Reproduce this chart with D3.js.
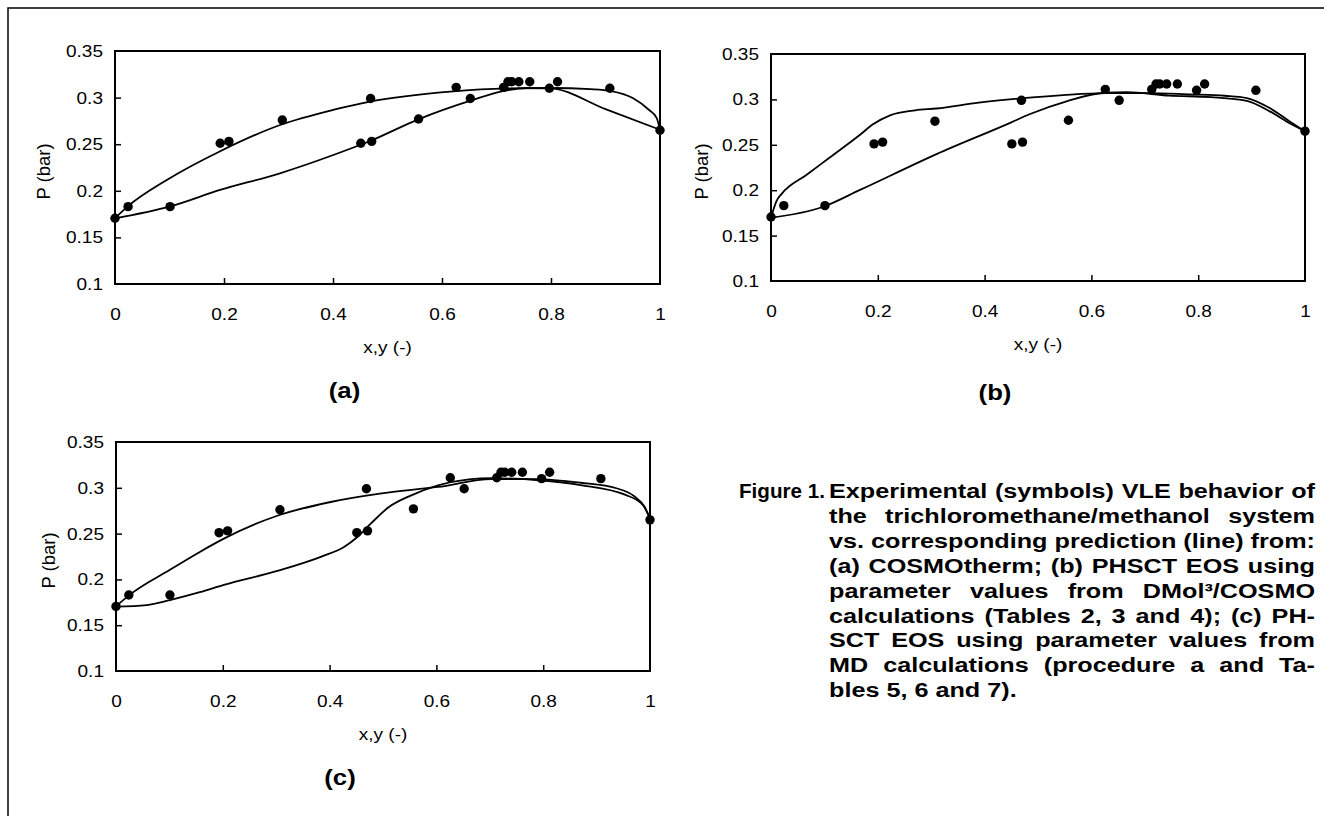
<!DOCTYPE html>
<html>
<head>
<meta charset="utf-8">
<script src="https://cdn.jsdelivr.net/npm/d3@7"></script>
<style>
  body { margin: 0; background: #fff; }
  svg { display: block; font-family: "Liberation Sans", Arial, Helvetica, sans-serif; }
</style>
</head>
<body>
<div id="wrapper"></div>
<script>
// experimental VLE points (same in every panel)
const expX = [0, 0.024, 0.101, 0.193, 0.209, 0.307, 0.451, 0.469, 0.471, 0.557, 0.626, 0.652, 0.713, 0.721, 0.728, 0.741, 0.761, 0.797, 0.812, 0.908, 1] ;
const expP = [0.1705, 0.183, 0.183, 0.251, 0.253, 0.276, 0.251, 0.299, 0.253, 0.277, 0.311, 0.299, 0.311, 0.317, 0.317, 0.317, 0.317, 0.310, 0.317, 0.310, 0.265] ;

// (a) COSMOtherm
const aUpX = [0, 0.024, 0.095, 0.193, 0.303, 0.4, 0.468, 0.615, 0.72, 0.8, 0.872, 0.91, 0.95, 0.98, 0.994, 1] ;
const aUpP = [0.1705, 0.1835, 0.2116, 0.2425, 0.2706, 0.2867, 0.2956, 0.3063, 0.3098, 0.3103, 0.309, 0.307, 0.2996, 0.2867, 0.278, 0.2655] ;
const aLoX = [0, 0.0997, 0.1927, 0.3027, 0.4006, 0.468, 0.5566, 0.654, 0.714, 0.756, 0.798, 0.9, 1] ;
const aLoP = [0.1705, 0.183, 0.2009, 0.2188, 0.2384, 0.2534, 0.2767, 0.297, 0.3073, 0.3103, 0.310, 0.2876, 0.2655] ;

// (b) PHSCT EOS, DMol3/COSMO parameters
const bUpX = [0, 0.0107, 0.02, 0.0668, 0.11, 0.1667, 0.191, 0.223, 0.27, 0.31, 0.389, 0.468, 0.547, 0.626, 0.705, 0.784, 0.85, 0.891, 0.934, 0.972, 1] ;
const bUpP = [0.1697, 0.1885, 0.196, 0.217, 0.236, 0.261, 0.2726, 0.2825, 0.288, 0.290, 0.2964, 0.3011, 0.3047, 0.3069, 0.3069, 0.3055, 0.304, 0.3015, 0.2905, 0.2755, 0.265] ;
const bLoX = [0, 0.098, 0.1667, 0.31, 0.449, 0.484, 0.555, 0.6245, 0.666, 0.745, 0.824, 0.891, 0.934, 0.972, 1] ;
const bLoP = [0.1697, 0.1818, 0.2003, 0.2398, 0.2745, 0.2836, 0.2982, 0.3073, 0.308, 0.3042, 0.3025, 0.2985, 0.2868, 0.2735, 0.265] ;

// (c) PHSCT EOS, MD parameters
const cUpX = [0, 0.023, 0.101, 0.157, 0.202, 0.302, 0.402, 0.494, 0.603, 0.703, 0.786, 0.87, 0.937, 0.97, 0.99, 1] ;
const cUpP = [0.1705, 0.182, 0.2105, 0.230, 0.2445, 0.2695, 0.2845, 0.2936, 0.3009, 0.3095, 0.3095, 0.3055, 0.2995, 0.291, 0.279, 0.2663] ;
const cLoX = [0, 0.0575, 0.101, 0.157, 0.202, 0.302, 0.386, 0.427, 0.452, 0.477, 0.511, 0.553, 0.603, 0.661, 0.703, 0.786, 0.87, 0.953, 0.987, 1] ;
const cLoP = [0.1702, 0.172, 0.1775, 0.186, 0.194, 0.2092, 0.2252, 0.2354, 0.2463, 0.2608, 0.279, 0.2918, 0.3027, 0.3092, 0.3105, 0.3085, 0.303, 0.2925, 0.281, 0.2663] ;

const xTicks = [0, 0.2, 0.4, 0.6, 0.8, 1] ;
const yTicks = [0.1, 0.15, 0.2, 0.25, 0.3, 0.35] ;

const captionHead = "Figure 1." ;
const captionLines = [
  "Experimental (symbols) VLE behavior of",
  "the trichloromethane/methanol system",
  "vs. corresponding prediction (line) from:",
  "(a) COSMOtherm; (b) PHSCT EOS using",
  "parameter values from DMol³/COSMO",
  "calculations (Tables 2, 3 and 4); (c) PH-",
  "SCT EOS using parameter values from",
  "MD calculations (procedure a and Ta-",
  "bles 5, 6 and 7)."
] ;

const W = 1324, H = 816 ;
const sx = 1.12 ;         // the scan is a bit wider than it is tall
const tickFont = 17 ;

const svg = d3.select("#wrapper").append("svg")
    .attr("width", W)
    .attr("height", H) ;

// page border (top and left only)
svg.append("path")
    .attr("d", "M8,816 V8 H1324")
    .attr("fill", "none")
    .attr("stroke", "#000")
    .attr("stroke-width", 1.5) ;

const panels = [
  {label: "(a)", left: 115, right: 660, top: 51, bottom: 284, yLabX: 44, tagDy: 106,
   curves: [[aUpX, aUpP], [aLoX, aLoP]]},
  {label: "(b)", left: 771, right: 1305, top: 54, bottom: 281, yLabX: 702, tagDy: 111,
   curves: [[bUpX, bUpP], [bLoX, bLoP]]},
  {label: "(c)", left: 116, right: 650, top: 442, bottom: 671, yLabX: 49, tagDy: 106,
   curves: [[cUpX, cUpP], [cLoX, cLoP]]}
] ;

function drawPanel(p) {
  const xScale = d3.scaleLinear().domain([0, 1]).range([p.left, p.right]) ;
  const yScale = d3.scaleLinear().domain([0.1, 0.35]).range([p.bottom, p.top]) ;
  const g = svg.append("g") ;

  const xAxis = g.append("g")
      .attr("transform", `translate(0,${p.bottom})`)
      .call(d3.axisBottom(xScale).tickValues(xTicks).tickFormat(d3.format(""))
        .tickSizeInner(-6).tickSizeOuter(0).tickPadding(24)) ;
  const yAxis = g.append("g")
      .attr("transform", `translate(${p.left},0)`)
      .call(d3.axisLeft(yScale).tickValues(yTicks).tickFormat(d3.format(""))
        .tickSizeInner(-6).tickSizeOuter(0).tickPadding(12)) ;

  [xAxis, yAxis].forEach((ax) => {
    ax.attr("font-size", tickFont).attr("font-family", null) ;
    ax.select(".domain").remove() ;
    ax.selectAll(".tick line").attr("stroke-width", 1.5) ;
  }) ;
  xAxis.selectAll(".tick text").attr("transform", `scale(${sx},1)`) ;
  yAxis.selectAll(".tick text").attr("x", -12 / sx).attr("transform", `scale(${sx},1)`) ;
  // no inner ticks where the frame already is
  xAxis.selectAll(".tick line").filter((d) => d == 0 || d == 1).remove() ;
  yAxis.selectAll(".tick line").filter((d) => d == 0.1 || d == 0.35).remove() ;

  g.append("rect")
      .attr("x", p.left).attr("y", p.top)
      .attr("width", p.right - p.left).attr("height", p.bottom - p.top)
      .attr("fill", "none").attr("stroke", "#000").attr("stroke-width", 2) ;

  const line = d3.line()
      .x((d) => xScale(d[0]))
      .y((d) => yScale(d[1]))
      .curve(d3.curveMonotoneX) ;

  g.selectAll("path.curve")
    .data(p.curves)
    .enter().append("path")
      .attr("class", "curve")
      .attr("d", (c) => line(d3.zip(c[0], c[1])))
      .attr("fill", "none")
      .attr("stroke", "#000")
      .attr("stroke-width", 1.8) ;

  g.selectAll("circle")
    .data(d3.zip(expX, expP))
    .enter().append("circle")
      .attr("cx", (d) => xScale(d[0]))
      .attr("cy", (d) => yScale(d[1]))
      .attr("r", 4.7)
      .attr("fill", "#000") ;

  const cx = (p.left + p.right) / 2 ;
  g.append("text")
      .attr("transform", `translate(${cx},${p.bottom + 63}) scale(${sx},1)`)
      .attr("text-anchor", "middle")
      .attr("dy", "0.35em")
      .attr("font-size", tickFont)
      .text("x,y (-)") ;

  g.append("text")
      .attr("transform", `translate(${p.yLabX},${(p.top + p.bottom) / 2 + 4}) rotate(-90)`)
      .attr("text-anchor", "middle")
      .attr("dy", "0.35em")
      .attr("font-size", 18.5)
      .text("P (bar)") ;

  g.append("text")
      .attr("transform", `translate(${cx - 43},${p.bottom + p.tagDy}) scale(1.12,1)`)
      .attr("text-anchor", "middle")
      .attr("dy", "0.36em")
      .attr("font-size", 23)
      .attr("font-weight", "bold")
      .text(p.label) ;
}

panels.forEach(drawPanel) ;

// caption, justified line by line
const capLeft = 829, capRight = 1315, capBase = 498, capLead = 24.9, capFont = 21, capSx = 1.2 ;
const capG = svg.append("g").attr("font-size", capFont).attr("font-weight", "bold") ;

capG.append("text")
    .attr("x", 739)
    .attr("y", capBase)
    .attr("textLength", 86)
    .attr("lengthAdjust", "spacingAndGlyphs")
    .text(captionHead) ;

captionLines.forEach((ln, i) => {
  const words = ln.split(" ") ;
  const t = capG.append("text")
      .attr("transform", `translate(${capLeft},${capBase + i * capLead}) scale(${capSx},1)`) ;
  const spans = t.selectAll("tspan").data(words).enter().append("tspan").text((d) => d) ;
  const widths = spans.nodes().map((n) => n.getComputedTextLength()) ;
  const target = (capRight - capLeft) / capSx ;
  const natural = d3.sum(widths) ;
  let gap = capFont * 0.278 ;
  if (i < captionLines.length - 1 && words.length > 1) {
    gap = (target - natural) / (words.length - 1) ;
  }
  let x = 0 ;
  spans.attr("x", (d, j) => { const v = x ; x += widths[j] + gap ; return v ; }) ;
}) ;
</script>
</body>
</html>
